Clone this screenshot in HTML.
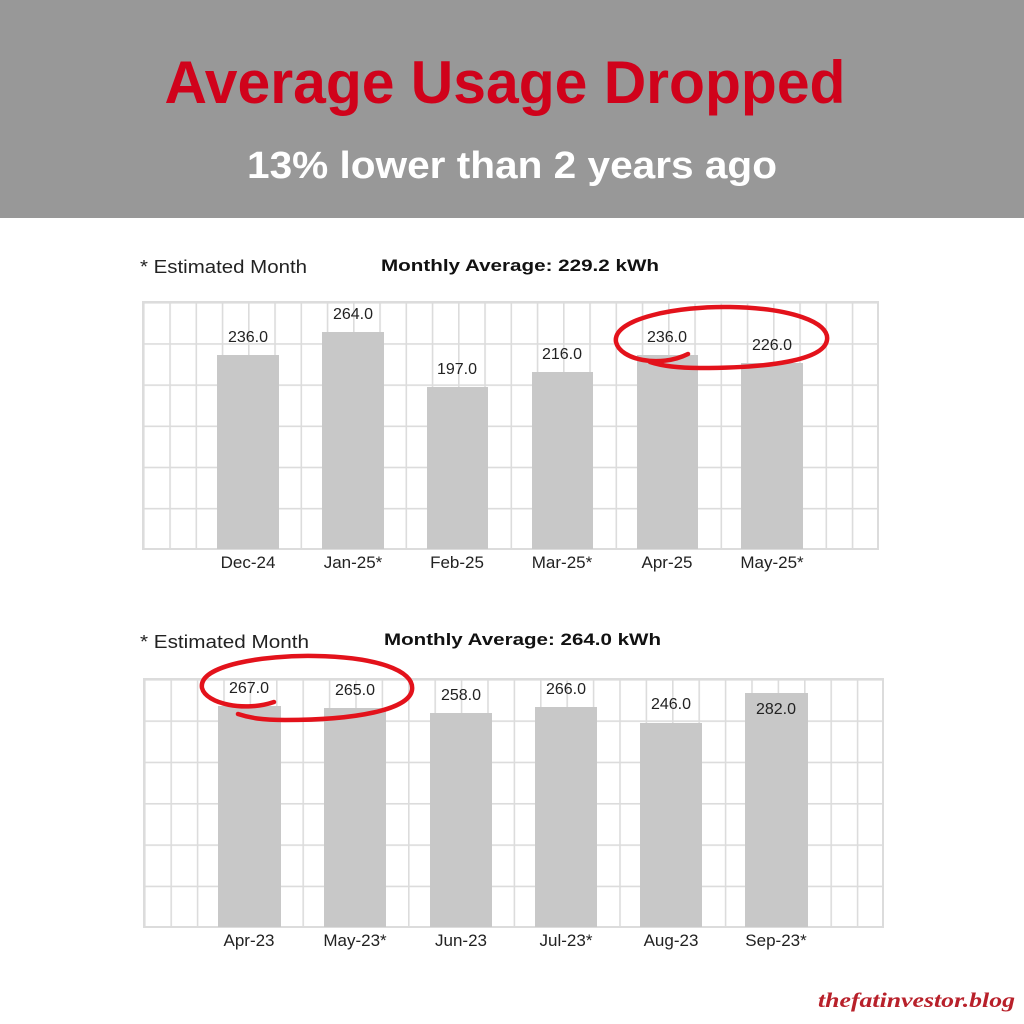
<!DOCTYPE html>
<html><head><meta charset="utf-8"><style>
html,body{margin:0;padding:0;background:#fff;}
svg{display:block;}
text{font-family:"Liberation Sans",Arial,sans-serif;}
</style></head><body>
<svg width="1024" height="1024" viewBox="0 0 1024 1024" xmlns="http://www.w3.org/2000/svg">
<defs>
<pattern id="g1" x="143" y="302" width="26.25" height="41.17" patternUnits="userSpaceOnUse">
<path d="M0.5 0V41.17M0 0.5H26.25" stroke="#dcdcdc" stroke-width="2.2" fill="none"/>
</pattern>
<pattern id="g2" x="144" y="679" width="26.4" height="41.33" patternUnits="userSpaceOnUse">
<path d="M0.5 0V41.33M0 0.5H26.4" stroke="#dcdcdc" stroke-width="2.2" fill="none"/>
</pattern>
</defs>
<rect x="0" y="0" width="1024" height="218" fill="#989898"/>
<text x="505" y="103" text-anchor="middle" font-size="60" font-weight="bold" fill="#d0021b" textLength="681" lengthAdjust="spacingAndGlyphs">Average Usage Dropped</text>
<text x="512" y="178" text-anchor="middle" font-size="38" font-weight="bold" fill="#fff" textLength="530" lengthAdjust="spacingAndGlyphs">13% lower than 2 years ago</text>

<!-- chart 1 -->
<text x="140" y="273" font-size="18" fill="#222" textLength="167" lengthAdjust="spacingAndGlyphs">* Estimated Month</text>
<text x="381" y="271" font-size="17" font-weight="bold" fill="#111" textLength="278" lengthAdjust="spacingAndGlyphs">Monthly Average: 229.2 kWh</text>
<rect x="143" y="302" width="735" height="247" fill="url(#g1)"/>
<rect x="143" y="302" width="735" height="247" fill="none" stroke="#dcdcdc" stroke-width="2"/>
<g fill="#c8c8c8">
<rect x="217" y="355" width="62" height="194"/>
<rect x="322" y="332" width="62" height="217"/>
<rect x="427" y="387" width="61" height="162"/>
<rect x="532" y="372" width="61" height="177"/>
<rect x="637" y="355" width="61" height="194"/>
<rect x="741" y="363" width="62" height="186"/>
</g>
<g font-size="16" fill="#222" text-anchor="middle">
<text x="248" y="342">236.0</text>
<text x="353" y="319">264.0</text>
<text x="457" y="374">197.0</text>
<text x="562" y="359">216.0</text>
<text x="667" y="342">236.0</text>
<text x="772" y="350">226.0</text>
</g>
<g font-size="17" fill="#222" text-anchor="middle">
<text x="248" y="568">Dec-24</text>
<text x="353" y="568">Jan-25*</text>
<text x="457" y="568">Feb-25</text>
<text x="562" y="568">Mar-25*</text>
<text x="667" y="568">Apr-25</text>
<text x="772" y="568">May-25*</text>
</g>
<path d="M688 354 C660 368 620 360 616 342 C612 318 680 306 730 307 C790 308 830 322 827 340 C824 360 770 368 700 368 C680 368 662 366 650 362" fill="none" stroke="#e3121b" stroke-width="4.5" stroke-linecap="round"/>

<!-- chart 2 -->
<text x="140" y="648" font-size="18" fill="#222" textLength="169" lengthAdjust="spacingAndGlyphs">* Estimated Month</text>
<text x="384" y="645" font-size="17" font-weight="bold" fill="#111" textLength="277" lengthAdjust="spacingAndGlyphs">Monthly Average: 264.0 kWh</text>
<rect x="144" y="679" width="739" height="248" fill="url(#g2)"/>
<rect x="144" y="679" width="739" height="248" fill="none" stroke="#dcdcdc" stroke-width="2"/>
<g fill="#c8c8c8">
<rect x="218" y="706" width="63" height="221"/>
<rect x="324" y="708" width="62" height="219"/>
<rect x="430" y="713" width="62" height="214"/>
<rect x="535" y="707" width="62" height="220"/>
<rect x="640" y="723" width="62" height="204"/>
<rect x="745" y="693" width="63" height="234"/>
</g>
<g font-size="16" fill="#222" text-anchor="middle">
<text x="249" y="693">267.0</text>
<text x="355" y="695">265.0</text>
<text x="461" y="700">258.0</text>
<text x="566" y="694">266.0</text>
<text x="671" y="709">246.0</text>
<text x="776" y="714">282.0</text>
</g>
<g font-size="17" fill="#222" text-anchor="middle">
<text x="249" y="946">Apr-23</text>
<text x="355" y="946">May-23*</text>
<text x="461" y="946">Jun-23</text>
<text x="566" y="946">Jul-23*</text>
<text x="671" y="946">Aug-23</text>
<text x="776" y="946">Sep-23*</text>
</g>
<path d="M274 702 C245 712 206 704 202 688 C198 665 265 655 315 656 C375 657 415 670 412 690 C409 710 355 720 285 720 C262 720 250 718 238 714" fill="none" stroke="#e3121b" stroke-width="4.5" stroke-linecap="round"/>

<text x="1015" y="1007" text-anchor="end" font-family="Liberation Serif,serif" font-size="21" font-style="italic" font-weight="bold" fill="#b8202a" style="font-family:'Liberation Serif',serif" textLength="197" lengthAdjust="spacingAndGlyphs">thefatinvestor.blog</text>
</svg>
</body></html>
